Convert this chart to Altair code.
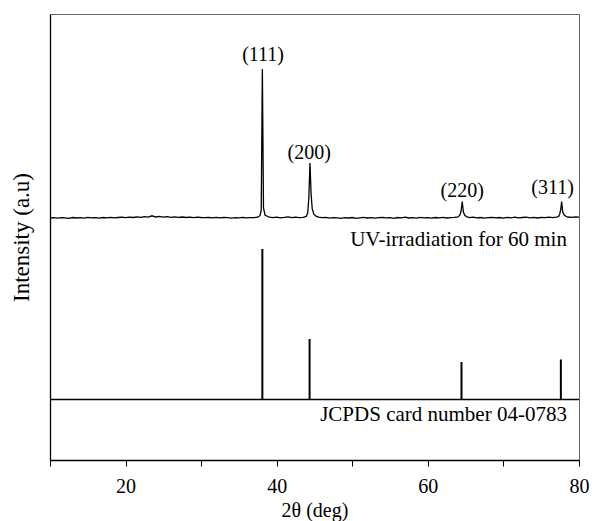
import altair as alt
import pandas as pd

# ---------------- data ----------------
# Measured pattern: UV-irradiation for 60 min (intensity above its own baseline, a.u.)
uv_two_theta = [
    10.0, 10.5, 11.0, 11.5, 12.0, 12.5, 13.0, 13.5, 14.0, 14.5, 15.0, 15.5, 16.0, 16.5,
    17.0, 17.5, 18.0, 18.5, 19.0, 19.5, 20.0,
    20.5, 21.0, 21.5, 22.0, 22.5, 23.0, 23.5, 24.0, 24.5, 25.0, 25.5, 26.0, 26.5, 27.0,
    27.5, 28.0, 28.5, 29.0, 29.5, 30.0,
    30.5, 31.0, 31.5, 32.0, 32.5, 33.0, 33.5, 34.0, 34.5, 35.0, 35.5, 36.0, 36.5, 37.0, 37.5,
    37.8, 37.95, 38.1, 38.25, 38.45,
    39.0, 39.5, 40.0, 40.5, 41.0, 41.5, 42.0, 42.5, 43.0, 43.5, 43.9,
    44.1, 44.25, 44.4, 44.55, 44.7, 44.9, 45.2,
    45.5, 46.0, 46.5, 47.0, 47.5, 48.0, 48.5, 49.0, 49.5, 50.0, 50.5, 51.0, 51.5, 52.0,
    52.5, 53.0, 53.5, 54.0, 54.5, 55.0, 55.5, 56.0, 56.5, 57.0, 57.5, 58.0, 58.5, 59.0,
    59.5, 60.0, 60.5, 61.0, 61.5, 62.0, 62.5, 63.0, 63.5, 64.0,
    64.25, 64.4, 64.55, 64.7, 64.9, 65.2,
    65.5, 66.0, 66.5, 67.0, 67.5, 68.0, 68.5, 69.0, 69.5, 70.0, 70.5, 71.0, 71.5, 72.0,
    72.5, 73.0, 73.5, 74.0, 74.5, 75.0, 75.5, 76.0, 76.5, 77.0, 77.3,
    77.45, 77.6, 77.7, 77.85, 78.05, 78.3,
    78.5, 79.0, 79.5, 80.0,
]
uv_intensity = [
    0.0, 0.3, -0.2, 0.4, 0.1, -0.3, 0.5, 0.0, 0.3, -0.2, 0.6, 0.1, 0.4, -0.1,
    0.5, 0.2, 0.7, 0.1, 0.5, 0.8, 0.3,
    0.9, 0.5, 1.1, 0.6, 1.3, 0.8, 2.2, 1.0, 1.6, 0.9, 1.4, 0.7, 1.2, 0.6,
    1.0, 0.5, 0.9, 0.4, 0.8, 0.5,
    0.3, 0.7, 0.2, 0.6, 0.1, 0.5, 0.3, -0.2, 0.4, 0.2, 0.6, 0.1, 0.4, 0.3, 0.8,
    2.5, 8.0, 149.0, 10.0, 3.0,
    0.8, 0.3, 0.9, 0.2, 0.6, 1.2, 0.3, 0.9, 0.4, 0.7, 1.5,
    5.0, 20.0, 55.0, 24.0, 9.0, 4.0, 1.8,
    0.8, 0.3, 0.6, -0.2, 0.4, 0.1, -0.4, 0.3, 0.0, 0.5, -0.3, 0.2, 0.6, 0.0,
    0.4, -0.2, 0.3, 0.7, 0.1, 0.4, -0.3, 0.5, 0.2, 0.8, 0.0, 0.4, -0.2, 0.6,
    0.1, 0.3, -0.1, 0.5, 0.2, 0.7, 0.0, 0.4, 0.6, 1.0,
    3.0, 7.0, 16.5, 6.0, 2.5, 1.2,
    0.4, 0.8, 0.2, 0.5, -0.1, 0.4, 0.7, 0.1, 0.5, -0.2, 0.6, 0.2, 0.8, 0.1,
    0.5, 0.9, 0.2, 0.6, 0.0, 0.7, 0.3, 0.9, 0.4, 0.8, 1.5,
    4.0, 9.0, 16.5, 6.0, 3.0, 1.5,
    1.0, 0.6, 1.1, 0.8,
]
uv_offset = 242.0

# Reference pattern: JCPDS card 04-0783 (stick heights, a.u.)
jcpds_two_theta = [38.1, 44.35, 64.45, 77.6]
jcpds_intensity = [150.5, 60.5, 37.5, 40.0]
jcpds_offset = 60.5

# Peak (hkl) labels
peak_labels = ["(111)", "(200)", "(220)", "(311)"]
peak_label_two_theta = [38.2, 44.3, 64.55, 76.5]
peak_label_level = [405.0, 307.0, 269.0, 272.0]

# Pattern names
series_names = ["UV-irradiation for 60 min", "JCPDS card number 04-0783"]
series_name_two_theta = [78.4, 78.4]
series_name_level = [220.0, 45.0]

x_ticks = [10, 20, 30, 40, 50, 60, 70, 80]

# ---------------- tables ----------------
uv_df = pd.DataFrame({"tt": uv_two_theta, "I": [v + uv_offset for v in uv_intensity]})
stick_df = pd.DataFrame({
    "tt": jcpds_two_theta,
    "I": [jcpds_offset] * len(jcpds_two_theta),
    "I2": [jcpds_offset + v for v in jcpds_intensity],
})
base_df = pd.DataFrame({"tt": [10.0], "tt2": [80.0], "I": [jcpds_offset]})
lab_df = pd.DataFrame({"tt": peak_label_two_theta, "I": peak_label_level, "t": peak_labels})
name_df = pd.DataFrame({"tt": series_name_two_theta, "I": series_name_level, "t": series_names})

FONT = "Liberation Serif"
xs = alt.Scale(domain=[10, 80], nice=False, zero=False)
ys = alt.Scale(domain=[0, 446], nice=False, zero=False)

x_axis = alt.Axis(
    values=x_ticks,
    labelExpr="datum.value % 20 == 0 ? datum.label : ''",
    title="2θ (deg)",
    grid=False,
    tickSize=6,
    tickColor="black",
    domainColor="black",
    domainWidth=1.3,
    labelFont=FONT,
    labelFontSize=20,
    labelColor="black",
    labelPadding=10,
    labelFlush=False,
    titleFont=FONT,
    titleFontSize=20,
    titleFontWeight="normal",
    titleColor="black",
    titlePadding=4,
)
y_axis = alt.Axis(
    title="Intensity (a.u)",
    labels=False,
    ticks=False,
    grid=False,
    domainColor="black",
    domainWidth=1.3,
    titleFont=FONT,
    titleFontSize=23,
    titleFontWeight="normal",
    titleColor="black",
    titlePadding=17,
)

X = alt.X("tt:Q", scale=xs, axis=x_axis)
Y = alt.Y("I:Q", scale=ys, axis=y_axis)

uv_line = alt.Chart(uv_df).mark_line(color="black", strokeWidth=1.3).encode(x=X, y=Y)

base_rule = alt.Chart(base_df).mark_rule(color="black", strokeWidth=1.4).encode(
    x=X, x2="tt2:Q", y=Y,
)

sticks = alt.Chart(stick_df).mark_rule(color="black", strokeWidth=2).encode(
    x=X, y=Y, y2="I2:Q",
)

peak_text = alt.Chart(lab_df).mark_text(
    font=FONT, fontSize=20, color="black", align="center", baseline="middle"
).encode(x=X, y=Y, text="t:N")

name_text = alt.Chart(name_df).mark_text(
    font=FONT, fontSize=21, color="black", align="right", baseline="middle"
).encode(x=X, y=Y, text="t:N")

chart = (
    alt.layer(uv_line, base_rule, sticks, peak_text, name_text)
    .properties(
        width=529,
        height=446,
        autosize=alt.AutoSizeParams(type="none"),
        padding={"left": 50, "top": 14, "right": 13, "bottom": 61},
        background="white",
    )
    .configure_view(stroke="#666666", strokeWidth=1)
)

chart.save("out.html", embed_options={"renderer": "svg", "actions": False})
